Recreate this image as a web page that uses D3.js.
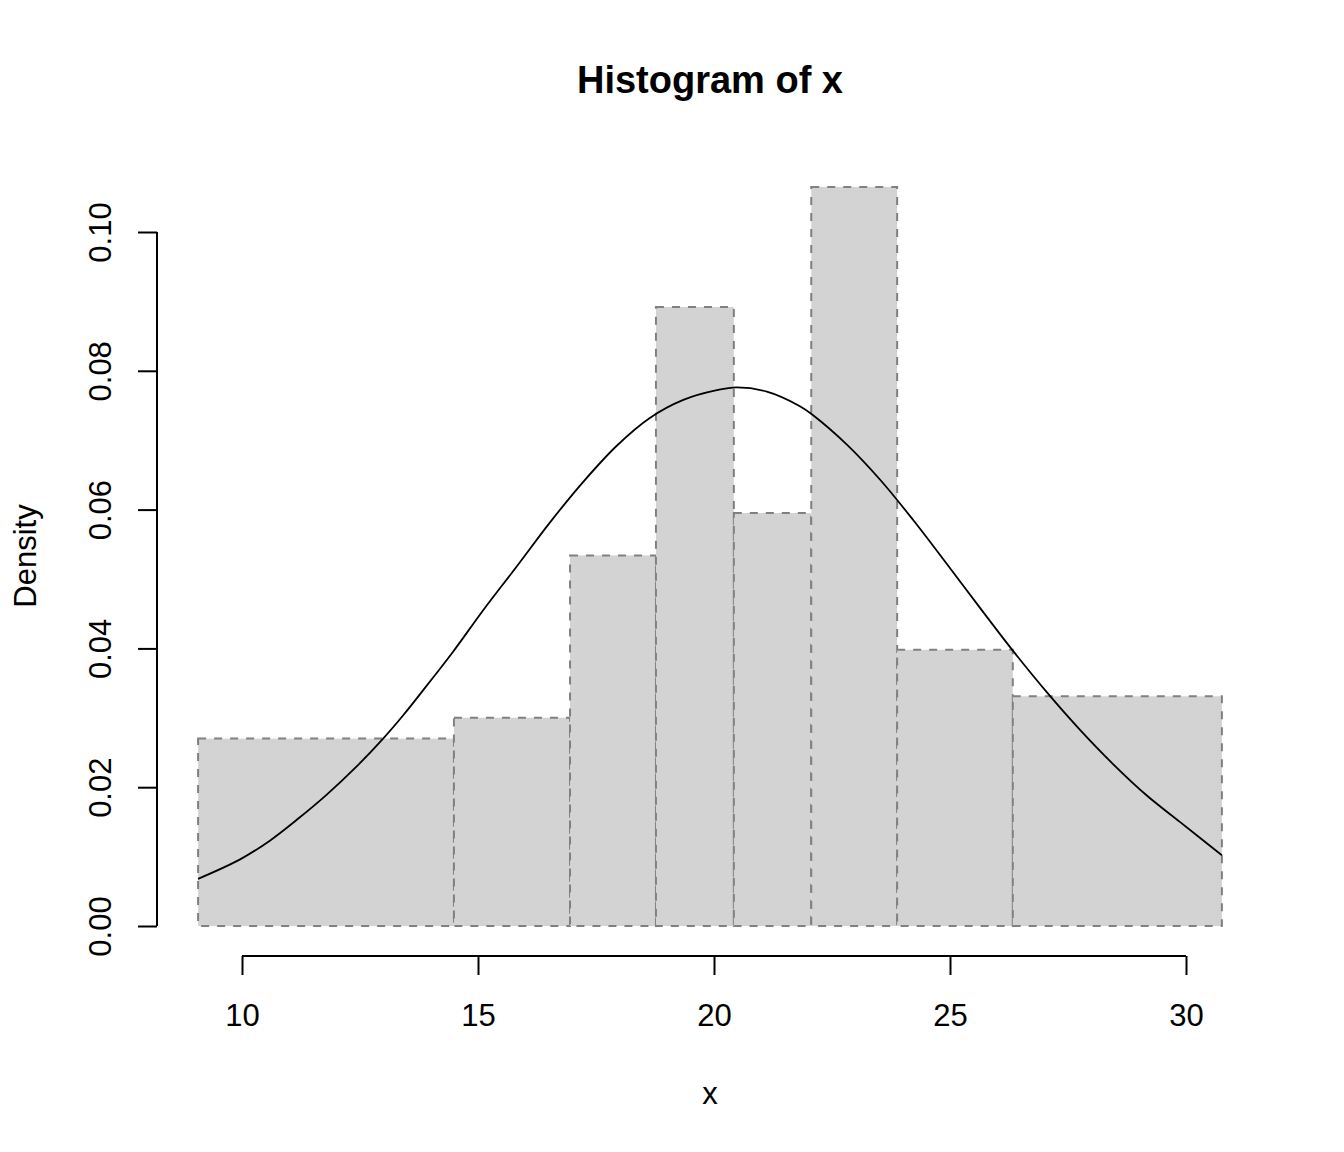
<!DOCTYPE html>
<html>
<head>
<meta charset="utf-8">
<script src="https://cdn.jsdelivr.net/npm/d3@7"></script>
<style>
  body { margin: 0; background: #fff; }
  svg text { font-family: "Liberation Sans", Arial, sans-serif; fill: #000; }
</style>
</head>
<body>
<svg id="chart" width="1344" height="1152"></svg>
<script>
// Histogram bin edges
const binEdges = [9.07, 14.49, 16.95, 18.77, 20.42, 22.06, 23.88, 26.33, 30.76];
// Density value of each bin
const binDensity = [0.0270, 0.0300, 0.0534, 0.0892, 0.0595, 0.1065, 0.0398, 0.0331];

// Overlaid density curve: x positions and density values
const curveX = [9.07, 9.96, 10.59, 11.16, 11.79, 12.43, 12.99, 13.42, 13.91, 14.48,
                15.11, 15.82, 16.53, 17.23, 17.94, 18.64, 19.35, 20.06, 20.48, 21.12,
                21.82, 22.10, 22.81, 23.52, 24.22, 24.93, 25.64, 26.34, 27.05, 27.75,
                28.46, 29.17, 29.87, 30.76];
const curveY = [0.0068, 0.0096, 0.0123, 0.0153, 0.0189, 0.0230, 0.0270, 0.0304, 0.0346, 0.0396,
                0.0455, 0.0518, 0.0582, 0.0640, 0.0692, 0.0732, 0.0758, 0.0772, 0.0776, 0.0770,
                0.0749, 0.0736, 0.0694, 0.0643, 0.0585, 0.0522, 0.0458, 0.0396, 0.0337, 0.0283,
                0.0233, 0.0188, 0.0150, 0.0102];

const xTicks = [10, 15, 20, 25, 30];
const yTicks = [0.00, 0.02, 0.04, 0.06, 0.08, 0.10];

const svg = d3.select("#chart");

const x = d3.scaleLinear().domain([10, 30]).range([242, 1186]);
const y = d3.scaleLinear().domain([0, 0.1]).range([926, 232]);

// bars
const bins = binDensity.map((d, i) => ({ x0: binEdges[i], x1: binEdges[i + 1], d }));
svg.append("g").selectAll("rect").data(bins).join("rect")
  .attr("x", b => x(b.x0))
  .attr("y", b => y(b.d))
  .attr("width", b => x(b.x1) - x(b.x0))
  .attr("height", b => y(0) - y(b.d))
  .attr("fill", "#d3d3d3")
  .attr("stroke", "#808080")
  .attr("stroke-width", 2)
  .attr("stroke-dasharray", "8,8");

// curve
const pts = curveX.map((v, i) => [v, curveY[i]]);
svg.append("path")
  .datum(pts)
  .attr("fill", "none")
  .attr("stroke", "#000")
  .attr("stroke-width", 1.8)
  .attr("d", d3.line().x(d => x(d[0])).y(d => y(d[1])).curve(d3.curveCatmullRom));

// x axis
const xAxis = d3.axisBottom(x).tickValues(xTicks).tickSize(19).tickPadding(0).tickFormat(d3.format("d"));
const gx = svg.append("g").attr("transform", "translate(0,956)").call(xAxis);
gx.select(".domain").attr("d", `M${x(10)},0H${x(30)}`).attr("stroke", "#000").attr("stroke-width", 2);
gx.selectAll(".tick line").attr("stroke", "#000").attr("stroke-width", 2);
gx.selectAll(".tick text").attr("font-size", 31).attr("y", 59).attr("dy", "0.35em")
  .style("font-family", '"Liberation Sans", Arial, sans-serif').attr("fill", "#000");

// y axis
const yAxis = d3.axisLeft(y).tickValues(yTicks).tickSize(19).tickFormat(d3.format(".2f"));
const gy = svg.append("g").attr("transform", "translate(157,0)").call(yAxis);
gy.select(".domain").attr("d", `M0,${y(0)}V${y(0.1)}`).attr("stroke", "#000").attr("stroke-width", 2);
gy.selectAll(".tick line").attr("stroke", "#000").attr("stroke-width", 2);
gy.selectAll(".tick text")
  .attr("x", null).attr("dy", null)
  .attr("text-anchor", "middle")
  .attr("transform", "translate(-57,0) rotate(-90)")
  .attr("y", 0).attr("dy", "0.35em")
  .attr("font-size", 31)
  .style("font-family", '"Liberation Sans", Arial, sans-serif').attr("fill", "#000");

// title
svg.append("text").attr("x", 710).attr("y", 80).attr("dy", "0.35em")
  .attr("text-anchor", "middle").attr("font-size", 38).attr("font-weight", "bold")
  .text("Histogram of x");

// axis titles
svg.append("text").attr("x", 710).attr("y", 1093).attr("dy", "0.35em")
  .attr("text-anchor", "middle").attr("font-size", 31).text("x");
svg.append("text").attr("transform", "translate(25,556) rotate(-90)").attr("dy", "0.35em")
  .attr("text-anchor", "middle").attr("font-size", 31).text("Density");
</script>
</body>
</html>
